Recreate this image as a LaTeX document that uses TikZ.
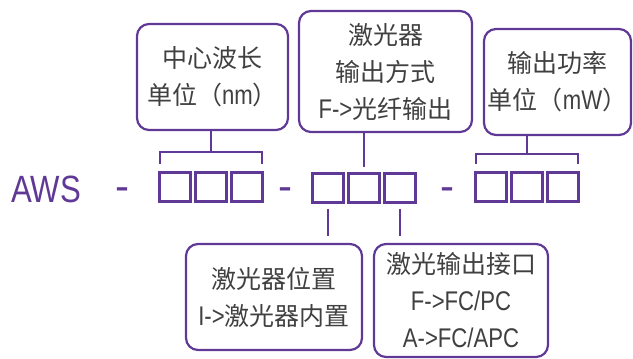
\documentclass[tikz,border=0pt]{standalone}
\usepackage{fontspec}
\setmainfont{Noto Sans CJK SC}
\newfontfamily\latfont[FakeStretch=0.82]{Liberation Sans}
\newfontfamily\dashfont{Liberation Sans}
\usetikzlibrary{positioning}
\definecolor{awspurple}{RGB}{96,56,150}
\definecolor{txtgray}{RGB}{64,64,64}
\newcommand{\lat}[1]{{\latfont\fontsize{27}{37}\selectfont #1}}
\tikzset{
  infobox/.style={draw=awspurple, line width=2.2pt, rounded corners=12pt, align=center,
    text=txtgray, font=\fontsize{25}{37}\selectfont, inner sep=0pt},
  digit/.style={draw=awspurple, line width=3pt, minimum width=31pt, minimum height=29pt, inner sep=0pt},
  link/.style={draw=awspurple, line width=1.8pt},
  code/.style={text=awspurple, font=\latfont\fontsize{38}{38}\selectfont, anchor=base, inner sep=0pt},
  sep/.style={text=awspurple, font=\dashfont\fontsize{42}{42}\selectfont, anchor=base, inner sep=0pt}
}
\begin{document}
\begin{tikzpicture}[x=1pt,y=-1pt]
  \useasboundingbox (0,0) rectangle (633,359);
  % part number
  \node[code] (aws) at (46,202) {AWS};
  \node[sep] (d1) at (122.5,200) {-};
  \node[digit] (s11) at (175,187) {};
  \node[digit] (s12) [right=2pt of s11] {};
  \node[digit] (s13) [right=2pt of s12] {};
  \node[sep] (d2) at (285.5,200) {-};
  \node[digit] (s21) at (328,188) {};
  \node[digit] (s22) [right=2pt of s21] {};
  \node[digit] (s23) [right=2pt of s22] {};
  \node[sep] (d3) at (447.5,200) {-};
  \node[digit] (s31) at (491,187) {};
  \node[digit] (s32) [right=2pt of s31] {};
  \node[digit] (s33) [right=2pt of s32] {};
  % notes
  \node[infobox, minimum width=151pt, minimum height=106pt] (wave) at (212.5,77)
    {中心波长\\单位（\lat{nm}）};
  \node[infobox, minimum width=173pt, minimum height=121pt] (mode) at (385.5,71.5)
    {激光器\\输出方式\\\lat{F->}光纤输出};
  \node[infobox, minimum width=147pt, minimum height=106pt] (power) at (557.5,82)
    {输出功率\\单位（\lat{mW}）};
  \node[infobox, minimum width=176pt, minimum height=106pt] (place) at (274,297)
    {激光器位置\\\lat{I->}激光器内置};
  \node[infobox, minimum width=174pt, minimum height=113pt] (port) at (461,300.5)
    {激光输出接口\\\lat{F->FC/PC}\\\lat{A->FC/APC}};
  % connectors
  \coordinate (b1) at (s12.north |- 0,152);
  \coordinate (b3) at (s32.north |- 0,154);
  \draw[link] ([shift={(2pt,7pt)}]s11.north west) |- (b1) -| ([shift={(-2pt,7pt)}]s13.north east);
  \draw[link] (b1) -- (b1 |- wave.south);
  \draw[link] ([shift={(2pt,7pt)}]s31.north west) |- (b3) -| ([shift={(-2pt,7pt)}]s33.north east);
  \draw[link] (b3) -- (b3 |- power.south);
  \draw[link] (s22 |- mode.south) -- ([yshift=5pt]s22.north);
  \draw[link] ([yshift=-5pt]s21.south) -- ([yshift=7pt]s21 |- place.north);
  \draw[link] ([yshift=-5pt]s23.south) -- ([yshift=7pt]s23 |- port.north);
\end{tikzpicture}
\end{document}
